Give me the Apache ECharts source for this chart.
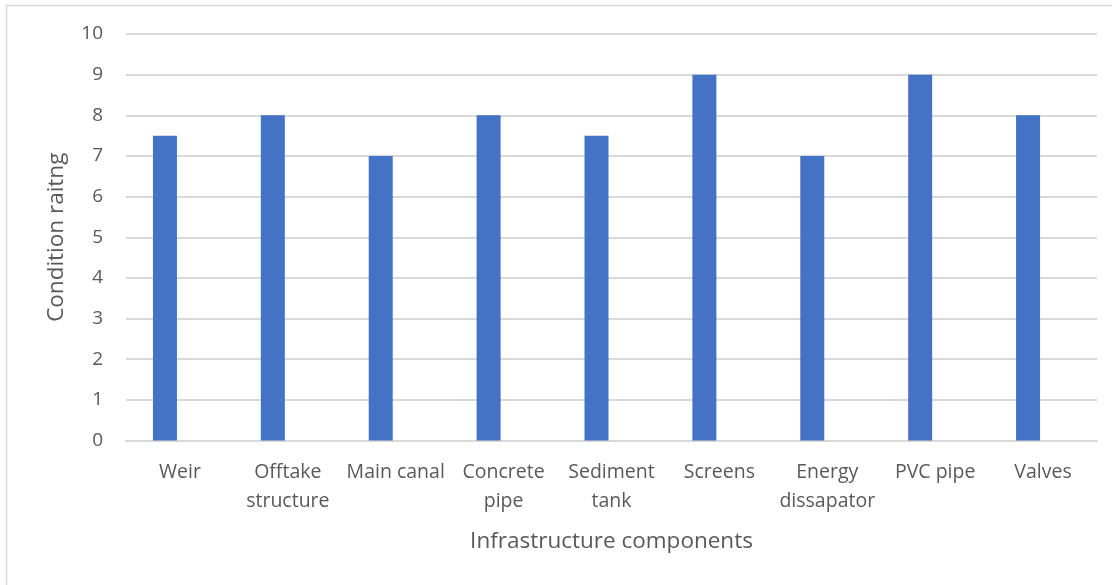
<!DOCTYPE html>
<html>
<head>
<meta charset="utf-8">
<script src="https://cdn.jsdelivr.net/npm/echarts@6/dist/echarts.min.js"></script>
<style>
  html, body { margin: 0; padding: 0; background: #fff; }
  #chart { width: 1112px; height: 585px; }
</style>
</head>
<body>
<div id="chart"></div>
<script>
// Infrastructure components and their condition ratings
const categories = [
  'Weir', 'Offtake\nstructure', 'Main canal', 'Concrete\npipe', 'Sediment\ntank',
  'Screens', 'Energy\ndissapator', 'PVC pipe', 'Valves'
];
const ratings = [7.5, 8, 7, 8, 7.5, 9, 7, 9, 8];
const yTicks = { min: 0, max: 10, interval: 1 };

const FONT = '"Open Sans", Lato, sans-serif';
const TEXT = '#595959';

const chart = echarts.init(document.getElementById('chart'), null, { renderer: 'canvas' });
chart.setOption({
  backgroundColor: '#ffffff',
  animation: false,
  graphic: [{
    type: 'rect',
    shape: { x: 6.5, y: 5.5, width: 1120, height: 600 },
    style: { fill: 'none', stroke: '#d9d9d9', lineWidth: 1.5 },
    silent: true
  }],
  grid: { left: 126, right: 15, top: 34, bottom: 144.5 },
  xAxis: {
    type: 'category',
    data: categories,
    name: 'Infrastructure components',
    nameLocation: 'middle',
    nameGap: 90,
    nameTextStyle: { fontFamily: FONT, fontSize: 22.5, color: TEXT },
    axisLine: { show: true, lineStyle: { color: '#d9d9d9', width: 2 } },
    axisTick: { show: false },
    axisLabel: {
      interval: 0, margin: 17, fontFamily: FONT, fontSize: 19.5, color: TEXT,
      lineHeight: 29
    }
  },
  yAxis: {
    type: 'value',
    min: yTicks.min, max: yTicks.max, interval: yTicks.interval,
    name: 'Condition raitng',
    nameLocation: 'middle',
    nameGap: 58,
    nameTextStyle: { fontFamily: FONT, fontSize: 22.5, color: TEXT },
    axisLine: { show: false },
    axisTick: { show: false },
    axisLabel: { margin: 23, fontFamily: FONT, fontSize: 19, color: TEXT },
    splitLine: { lineStyle: { color: '#d9d9d9', width: 2 } }
  },
  series: [
    {
      type: 'bar',
      data: ratings,
      barWidth: 24,
      barGap: '25%',
      itemStyle: { color: '#4472C4' }
    },
    {
      // reserves the second slot in each band so the rating bar sits left of centre
      type: 'bar',
      data: [],
      barWidth: 24,
      silent: true
    }
  ]
});
</script>
</body>
</html>
